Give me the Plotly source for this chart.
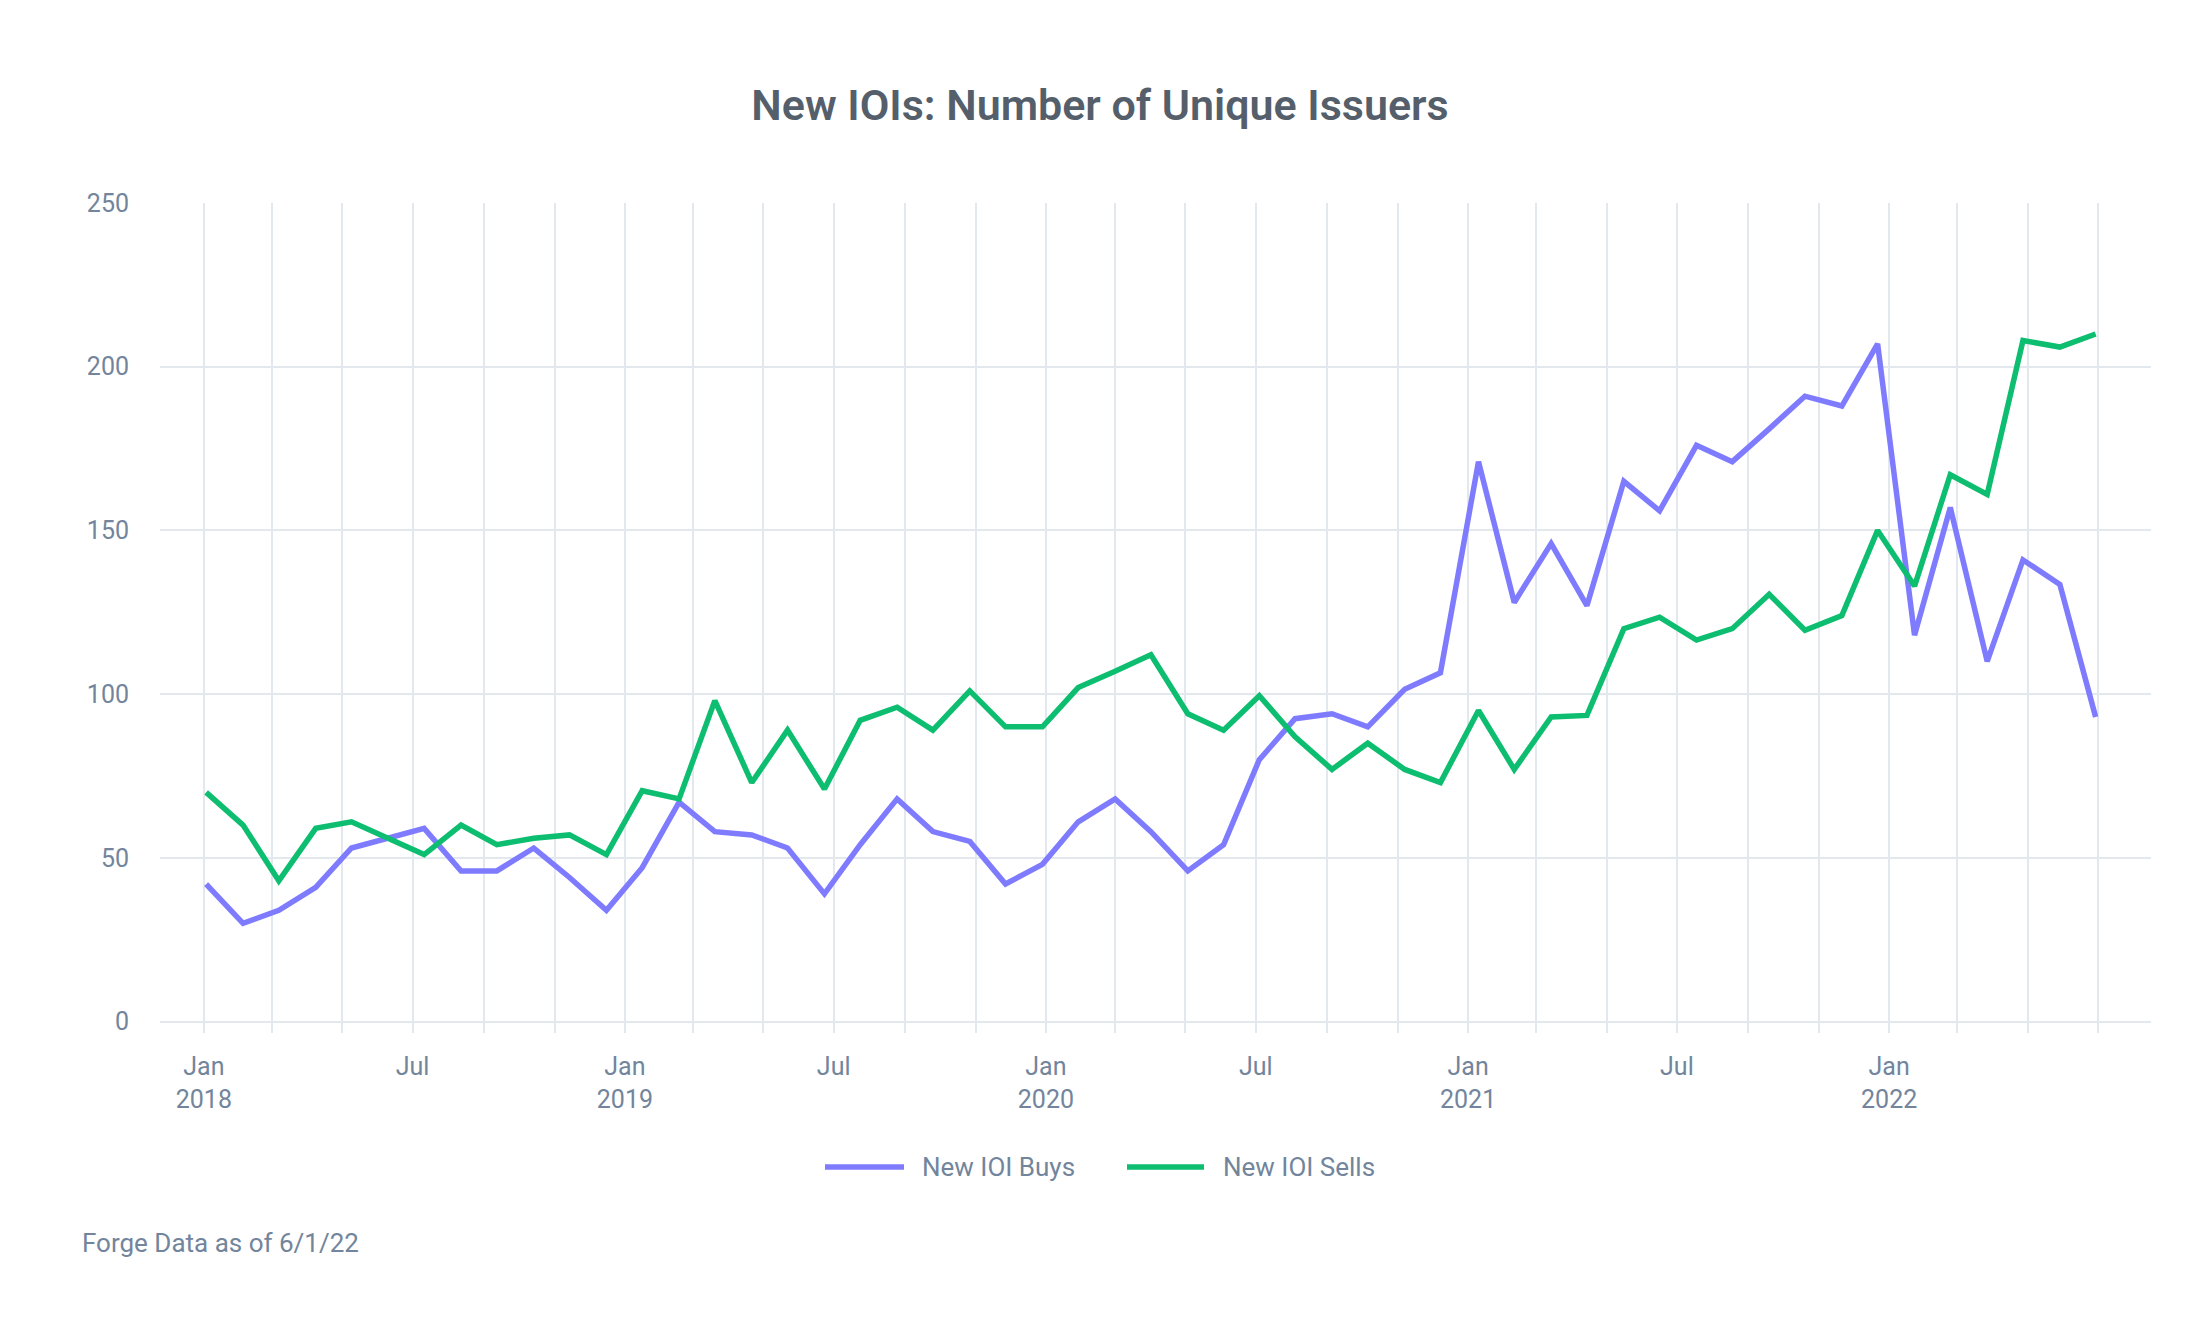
import plotly.graph_objects as go

dates = [
    "2018-01-03", "2018-02-04", "2018-03-07", "2018-04-08", "2018-05-09", "2018-06-10",
    "2018-07-11", "2018-08-12", "2018-09-12", "2018-10-14", "2018-11-14", "2018-12-16",
    "2019-01-16", "2019-02-17", "2019-03-20", "2019-04-21", "2019-05-22", "2019-06-23",
    "2019-07-24", "2019-08-25", "2019-09-25", "2019-10-27", "2019-11-27", "2019-12-29",
    "2020-01-29", "2020-03-01", "2020-04-01", "2020-05-03", "2020-06-03", "2020-07-04",
    "2020-08-04", "2020-09-05", "2020-10-06", "2020-11-07", "2020-12-08", "2021-01-10",
    "2021-02-10", "2021-03-14", "2021-04-14", "2021-05-16", "2021-06-16", "2021-07-18",
    "2021-08-18", "2021-09-19", "2021-10-20", "2021-11-21", "2021-12-22", "2022-01-23",
    "2022-02-23", "2022-03-27", "2022-04-27", "2022-05-29", "2022-06-29",
]

buys = [
    42, 30, 34, 41, 53, 56, 59, 46, 46, 53, 44, 34,
    47, 67, 58, 57, 53, 39, 54, 68, 58, 55, 42, 48,
    61, 68, 58, 46, 54, 80, 92.5, 94, 90, 101.5, 106.5,
    171, 128, 146, 127, 165, 156, 176, 171, 181, 191, 188, 207,
    118, 157, 110, 141, 133.5, 93,
]

sells = [
    70, 60, 43, 59, 61, 56, 51, 60, 54, 56, 57, 51,
    70.5, 68, 98, 73, 89, 71, 92, 96, 89, 101, 90, 90,
    102, 107, 112, 94, 89, 99.5, 87, 77, 85, 77, 73,
    95, 77, 93, 93.5, 120, 123.5, 116.5, 120, 130.5, 119.5, 124, 150,
    133, 167, 161, 208, 206, 210,
]

x_tick_vals = ["2018-01-01", "2018-07-01", "2019-01-01", "2019-07-01", "2020-01-01",
               "2020-07-01", "2021-01-01", "2021-07-01", "2022-01-01"]
x_tick_text = ["Jan<br>2018", "Jul", "Jan<br>2019", "Jul", "Jan<br>2020",
               "Jul", "Jan<br>2021", "Jul", "Jan<br>2022"]
y_tick_vals = [0, 50, 100, 150, 200, 250]

series_names = ["New IOI Buys", "New IOI Sells"]
title_text = "New IOIs: Number of Unique Issuers"
footnote_text = "Forge Data as of 6/1/22"

BUY_COLOR = "#7F7BFF"
SELL_COLOR = "#0DBD70"
GRID = "#E3E8EE"
TICK = "#72859C"
FONT = "Roboto, 'Noto Sans', sans-serif"

# plot-area geometry (pixels) used to place legend/footnote in paper coords
L, R, T, B = 160, 2151, 203, 1033
PW, PH = R - L, B - T


def px(xp):
    return (xp - L) / PW


def py(yp):
    return (B - yp) / PH


fig = go.Figure()
fig.add_trace(go.Scatter(x=dates, y=buys, mode="lines", name=series_names[0],
                         line=dict(color=BUY_COLOR, width=5.5), showlegend=False))
fig.add_trace(go.Scatter(x=dates, y=sells, mode="lines", name=series_names[1],
                         line=dict(color=SELL_COLOR, width=5.5), showlegend=False))

# custom legend (long line swatches like the reference)
legend_items = [(series_names[0], BUY_COLOR, 825, 904, 920),
                (series_names[1], SELL_COLOR, 1127, 1204, 1221)]
shapes = []
annotations = []
for name, color, x0, x1, xt in legend_items:
    shapes.append(dict(type="line", xref="paper", yref="paper",
                       x0=px(x0), x1=px(x1), y0=py(1167), y1=py(1167),
                       line=dict(color=color, width=5.5)))
    annotations.append(dict(text=name, xref="paper", yref="paper",
                            x=px(xt), y=py(1167), xanchor="left", yanchor="middle",
                            showarrow=False, font=dict(family=FONT, size=26, color=TICK)))

annotations.append(dict(text=footnote_text, xref="paper", yref="paper",
                        x=px(80), y=py(1243),
                        xanchor="left", yanchor="middle", showarrow=False,
                        font=dict(family=FONT, size=26, color=TICK)))

fig.update_layout(
    width=2200, height=1322,
    paper_bgcolor="white", plot_bgcolor="white",
    margin=dict(l=L, r=2200 - R, t=T, b=1322 - B),
    font=dict(family=FONT, size=25, color=TICK),
    showlegend=False,
    title=dict(text=title_text, x=0.5, xref="container", xanchor="center",
               y=1 - 105 / 1322, yref="container", yanchor="middle",
               font=dict(family=FONT, size=43, color="#555F6B", weight=600)),
    xaxis=dict(
        type="date", range=["2017-11-24", "2022-08-16"],
        tickvals=x_tick_vals, ticktext=x_tick_text,
        showgrid=True, gridcolor=GRID, gridwidth=2,
        minor=dict(dtick="M2", tick0="2018-01-01", showgrid=True, gridcolor=GRID, gridwidth=2),
        showline=False, zeroline=False, ticks="",
        tickfont=dict(size=25, color=TICK),
        ticklabelstandoff=16,
    ),
    yaxis=dict(
        range=[-3.5, 250], tickvals=y_tick_vals,
        showgrid=True, gridcolor=GRID, gridwidth=2,
        zeroline=False, showline=False, ticks="",
        tickfont=dict(size=25, color=TICK),
        ticklabelstandoff=30,
    ),
    shapes=shapes,
    annotations=annotations,
)

fig.write_html("out.html")
